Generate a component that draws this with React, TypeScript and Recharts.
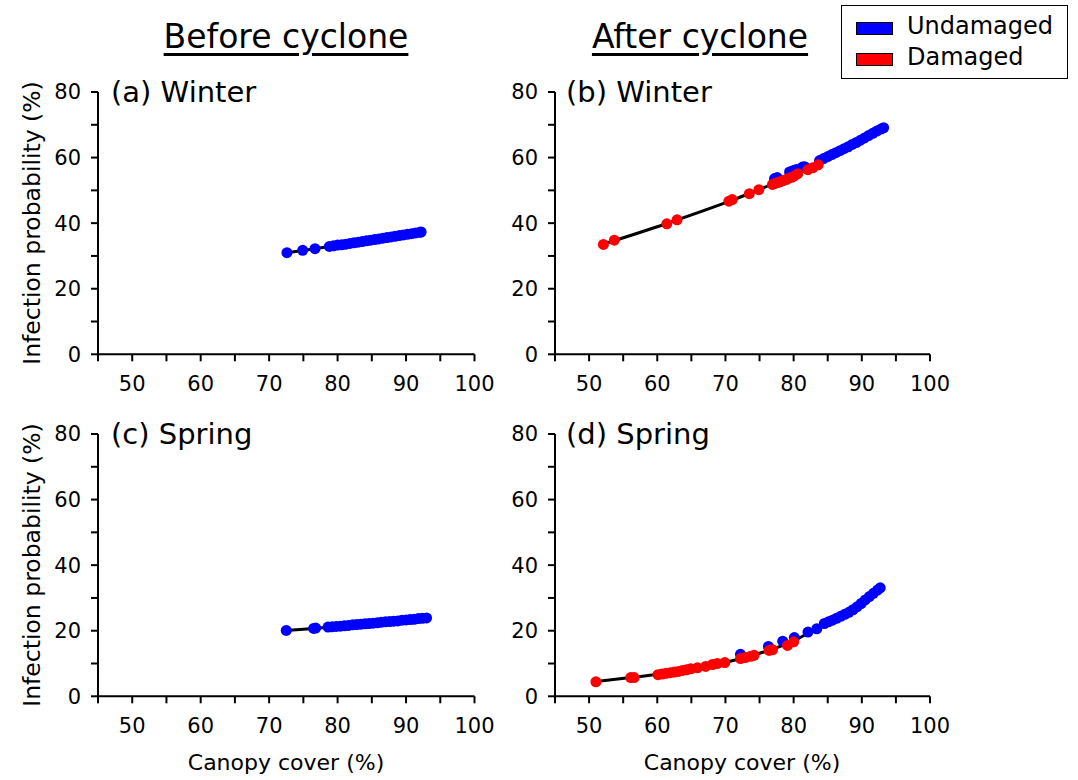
import React from 'react';
import { ScatterChart, Scatter, XAxis, YAxis } from 'recharts';

const FONT = '"DejaVu Sans", "Liberation Sans", sans-serif';
const BLUE = '#0000ff';
const RED = '#ff0000';

const xTicks = [45, 50, 55, 60, 65, 70, 75, 80, 85, 90, 95, 100];
const yTicks = [0, 10, 20, 30, 40, 50, 60, 70, 80];

// Panel (a) Before cyclone, Winter
const aBlueX = [72.6, 74.9, 76.7, 78.8, 79.4, 80.0, 80.6, 81.2, 81.8, 82.4, 83.0, 83.6, 84.2, 84.8, 85.4, 86.0, 86.6, 87.2, 87.8, 88.4, 89.0, 89.6, 90.2, 90.8, 91.4, 92.0, 92.2];
const aBlueY = [31.0, 31.7, 32.2, 32.9, 33.1, 33.3, 33.4, 33.6, 33.8, 34.0, 34.2, 34.4, 34.6, 34.8, 35.0, 35.2, 35.4, 35.6, 35.8, 36.0, 36.2, 36.4, 36.6, 36.8, 37.0, 37.2, 37.3];
const aLineX = [72.6, 76.7, 80.0, 84.2, 88.4, 92.2];
const aLineY = [31.0, 32.2, 33.3, 34.6, 36.0, 37.3];

// Panel (b) After cyclone, Winter
const bBlueX = [77.2, 77.6, 79.4, 79.9, 80.4, 81.3, 81.6, 83.8, 84.4, 85.0, 85.6, 86.2, 86.8, 87.4, 88.0, 88.6, 89.2, 89.8, 90.4, 91.0, 91.6, 92.2, 92.8, 93.2];
const bBlueY = [53.6, 53.9, 55.6, 56.0, 56.4, 57.1, 57.2, 59.1, 59.7, 60.3, 60.9, 61.5, 62.1, 62.7, 63.3, 64.0, 64.6, 65.3, 66.0, 66.7, 67.4, 68.1, 68.7, 69.1];
const bRedX = [52.1, 53.7, 61.4, 62.9, 70.5, 71.0, 73.5, 74.9, 76.9, 77.3, 77.7, 78.1, 78.5, 78.9, 79.3, 79.7, 80.1, 80.6, 82.1, 82.8, 83.6];
const bRedY = [33.5, 34.8, 39.8, 41.0, 46.7, 47.2, 49.0, 50.2, 51.8, 52.1, 52.4, 52.7, 53.0, 53.3, 53.7, 54.0, 54.4, 55.1, 56.3, 56.9, 57.8];
const bLineX = [52.1, 61.4, 71.0, 76.9, 80.6, 83.7, 88.0, 93.2];
const bLineY = [33.6, 39.9, 47.0, 51.9, 55.0, 58.4, 63.3, 69.1];

// Panel (c) Before cyclone, Spring
const cBlueX = [72.5, 76.5, 76.8, 78.6, 79.2, 79.8, 80.4, 81.0, 81.6, 82.2, 82.8, 83.4, 84.0, 84.6, 85.2, 85.8, 86.4, 87.0, 87.6, 88.2, 88.8, 89.4, 90.0, 90.6, 91.2, 91.8, 92.4, 93.0];
const cBlueY = [20.1, 20.7, 20.8, 21.1, 21.2, 21.3, 21.4, 21.5, 21.6, 21.8, 21.9, 22.0, 22.1, 22.2, 22.3, 22.4, 22.6, 22.7, 22.8, 22.9, 23.0, 23.2, 23.3, 23.4, 23.5, 23.7, 23.8, 23.9];
const cLineX = [72.5, 76.5, 80.4, 85.2, 90.0, 93.0];
const cLineY = [20.1, 20.7, 21.4, 22.3, 23.3, 23.9];

// Panel (d) After cyclone, Spring
const dRedX = [51.0, 56.1, 56.6, 60.1, 60.7, 61.3, 61.9, 62.5, 63.1, 63.7, 64.3, 64.9, 65.9, 67.1, 68.1, 68.8, 69.9, 72.2, 72.9, 73.7, 74.2, 76.4, 76.9, 79.1, 80.0];
const dRedY = [4.4, 5.7, 5.7, 6.6, 6.8, 7.0, 7.2, 7.4, 7.6, 7.9, 8.1, 8.4, 8.7, 9.1, 9.7, 10.0, 10.3, 11.5, 11.8, 12.2, 12.5, 14.0, 14.2, 15.5, 16.6];
const dBlueX = [72.2, 76.3, 78.4, 80.1, 82.1, 83.4, 84.5, 85.1, 85.7, 86.3, 86.9, 87.5, 88.1, 88.7, 89.3, 89.9, 90.5, 91.1, 91.7, 92.3, 92.7];
const dBlueY = [12.8, 15.2, 16.8, 17.9, 19.6, 20.6, 22.2, 22.7, 23.2, 23.8, 24.4, 25.0, 25.6, 26.4, 27.3, 28.3, 29.4, 30.4, 31.4, 32.4, 33.1];
const dLineX = [51.0, 56.1, 60.1, 64.9, 69.9, 74.2, 80.0, 84.5, 88.1, 90.5, 92.7];
const dLineY = [4.5, 5.7, 6.7, 8.4, 10.3, 12.6, 16.9, 22.0, 25.6, 29.3, 33.1];

const pts = (xs: number[], ys: number[]) => xs.map((x, i) => ({ x, y: ys[i] }));

const dot = (color: string) => (props: any) => (
  <circle cx={props.cx} cy={props.cy} r={5.5} fill={color} stroke="none" />
);

const xFmt = (v: number) => (v % 10 === 0 && v >= 50 ? String(v) : '');
const yFmt = (v: number) => (v % 20 === 0 ? String(v) : '');

type PanelProps = {
  pl: number; pr: number; pt: number; pb: number;
  blue: { x: number; y: number }[];
  red?: { x: number; y: number }[];
  line: { x: number; y: number }[];
};

function Panel({ pl, pr, pt, pb, blue, red, line }: PanelProps) {
  const yw = 60, mt = 20, mr = 30, xh = 45;
  const width = yw + (pr - pl) + mr;
  const height = mt + (pb - pt) + xh;
  const axisStyle = { stroke: '#000', strokeWidth: 2 };
  const tickStyle = { fill: '#000', fontSize: 21, fontFamily: FONT };
  return (
    <div style={{ position: 'absolute', left: pl - yw, top: pt - mt }}>
      <ScatterChart width={width} height={height} margin={{ top: mt, right: mr, left: 0, bottom: 0 }}>
        <XAxis
          type="number"
          dataKey="x"
          domain={[45, 100]}
          ticks={xTicks}
          interval={0}
          tickFormatter={xFmt}
          tick={tickStyle}
          tickSize={7}
          tickMargin={15}
          axisLine={axisStyle}
          tickLine={axisStyle}
          height={xh}
          allowDataOverflow
        />
        <YAxis
          type="number"
          dataKey="y"
          domain={[0, 80]}
          ticks={yTicks}
          interval={0}
          tickFormatter={yFmt}
          tick={tickStyle}
          tickSize={7}
          tickMargin={10}
          axisLine={axisStyle}
          tickLine={axisStyle}
          width={yw}
          allowDataOverflow
        />
        <Scatter
          data={line}
          line={{ stroke: '#000', strokeWidth: 3 }}
          lineJointType="monotoneX"
          shape={() => <g />}
          isAnimationActive={false}
        />
        <Scatter data={blue} shape={dot(BLUE)} isAnimationActive={false} />
        {red ? <Scatter data={red} shape={dot(RED)} isAnimationActive={false} /> : null}
      </ScatterChart>
    </div>
  );
}

const abs = (s: React.CSSProperties): React.CSSProperties => ({ position: 'absolute', whiteSpace: 'nowrap', fontFamily: FONT, color: '#000', ...s });

export default function App() {
  const L = { pl: 97.5, pr: 474 };
  const R = { pl: 554.5, pr: 929.5 };
  const T = { pt: 91.7, pb: 354 };
  const B = { pt: 434, pb: 696.3 };
  return (
    <div style={{ position: 'absolute', left: 0, top: 0, width: 1078, height: 780, background: '#fff', fontFamily: FONT }}>
      <Panel {...L} {...T} blue={pts(aBlueX, aBlueY)} line={pts(aLineX, aLineY)} />
      <Panel {...R} {...T} blue={pts(bBlueX, bBlueY)} red={pts(bRedX, bRedY)} line={pts(bLineX, bLineY)} />
      <Panel {...L} {...B} blue={pts(cBlueX, cBlueY)} line={pts(cLineX, cLineY)} />
      <Panel {...R} {...B} blue={pts(dBlueX, dBlueY)} red={pts(dRedX, dRedY)} line={pts(dLineX, dLineY)} />

      {/* column headers */}
      <div style={abs({ left: 286, top: 20, fontSize: 33, lineHeight: '33px', transform: 'translateX(-50%)', textDecoration: 'underline', textUnderlineOffset: 5 })}>Before cyclone</div>
      <div style={abs({ left: 700, top: 20, fontSize: 33, lineHeight: '33px', transform: 'translateX(-50%)', textDecoration: 'underline', textUnderlineOffset: 5 })}>After cyclone</div>

      {/* panel titles */}
      <div style={abs({ left: 111, top: 78, fontSize: 29, lineHeight: '29px' })}>(a) Winter</div>
      <div style={abs({ left: 566, top: 78, fontSize: 29, lineHeight: '29px' })}>(b) Winter</div>
      <div style={abs({ left: 111, top: 420, fontSize: 29, lineHeight: '29px' })}>(c) Spring</div>
      <div style={abs({ left: 566, top: 420, fontSize: 29, lineHeight: '29px' })}>(d) Spring</div>

      {/* y axis labels */}
      <div style={abs({ left: 32, top: 223, fontSize: 23.5, lineHeight: '24px', transform: 'translate(-50%, -50%) rotate(-90deg)' })}>Infection probability (%)</div>
      <div style={abs({ left: 32, top: 565, fontSize: 23.5, lineHeight: '24px', transform: 'translate(-50%, -50%) rotate(-90deg)' })}>Infection probability (%)</div>

      {/* x axis labels */}
      <div style={abs({ left: 286, top: 763, fontSize: 22, lineHeight: '22px', transform: 'translate(-50%, -50%)' })}>Canopy cover (%)</div>
      <div style={abs({ left: 742, top: 763, fontSize: 22, lineHeight: '22px', transform: 'translate(-50%, -50%)' })}>Canopy cover (%)</div>

      {/* legend */}
      <div style={{ position: 'absolute', left: 841, top: 5, width: 227, height: 74, border: '1.5px solid #000', boxSizing: 'border-box', background: '#fff' }} />
      <div style={{ position: 'absolute', left: 856, top: 21.5, width: 37, height: 13.5, background: BLUE, border: '1px solid #000', boxSizing: 'border-box' }} />
      <div style={{ position: 'absolute', left: 856, top: 52.5, width: 37, height: 13.5, background: RED, border: '1px solid #000', boxSizing: 'border-box' }} />
      <div style={abs({ left: 907, top: 14, fontSize: 24, lineHeight: '24px' })}>Undamaged</div>
      <div style={abs({ left: 907, top: 45, fontSize: 24, lineHeight: '24px' })}>Damaged</div>
    </div>
  );
}
